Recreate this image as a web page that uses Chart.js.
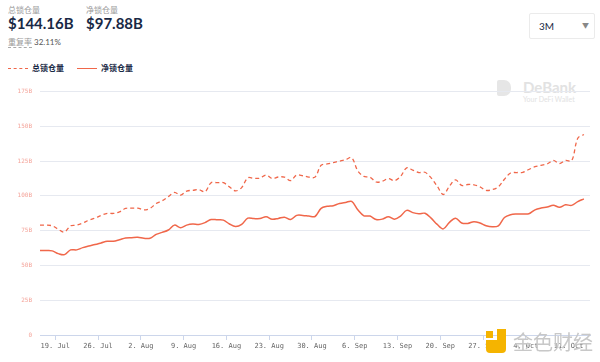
<!DOCTYPE html>
<html>
<head>
<meta charset="utf-8">
<script src="https://cdn.jsdelivr.net/npm/chart.js@4"></script>
<style>
  body { margin: 0; width: 600px; height: 362px; background: #fff; font-family: Lato, "Noto Sans CJK SC", sans-serif; position: relative; overflow: hidden; }
  .abs { position: absolute; }
  .cap { font-size: 8px; color: #9a9a9a; }
  .big { font-size: 15px; font-weight: bold; color: #192945; }
  .legend { top: 62px; font-size: 8px; font-weight: bold; color: #192945; }
  .leg-line { position: absolute; top: 6px; width: 20px; border-top: 1.5px solid #f0674a; }
  .select { left: 529px; top: 13px; width: 64px; height: 24px; border: 1px solid #ebebeb; border-radius: 2px; font-size: 10px; color: #192945; }
  #wrap { position: absolute; left: 0; top: 80px; width: 600px; height: 282px; }
</style>
</head>
<body>
<div class="abs cap" style="left:8px;top:4px;">总锁仓量</div>
<div class="abs big" style="left:8px;top:14px;">$144.16B</div>
<div class="abs cap" style="left:86px;top:4px;">净锁仓量</div>
<div class="abs big" style="left:86px;top:14px;">$97.88B</div>
<div class="abs cap" style="left:8px;top:36px;"><span style="border-bottom:1px dashed #aaa;">重复率</span> <span style="color:#555;">32.11%</span></div>

<div class="abs legend" style="left:8px;"><span class="leg-line" style="left:0;border-top-style:dashed;"></span><span style="margin-left:24px;">总锁仓量</span></div>
<div class="abs legend" style="left:77px;"><span class="leg-line" style="left:0;"></span><span style="margin-left:24px;">净锁仓量</span></div>

<div class="abs select"><span class="abs" style="left:9px;top:6px;">3M</span><span class="abs" style="left:52px;top:6px;font-size:7px;color:#888;">&#9660;</span></div>

<div class="abs" style="left:497px;top:78px;color:#e2e2e2;">
  <div class="abs" style="left:0;top:2px;width:14px;height:16px;background:#e6e6e6;border-radius:2px 7px 7px 2px;"></div>
  <div class="abs" style="left:26px;top:0;font-size:15px;font-weight:bold;">DeBank</div>
  <div class="abs" style="left:26px;top:17px;font-size:7px;white-space:nowrap;">Your DeFi Wallet</div>
</div>

<div id="wrap"><canvas id="chart"></canvas></div>

<div class="abs" style="left:486px;top:329px;">
  <div class="abs" style="left:0;top:2px;width:7px;height:7px;background:#f5b400;"></div>
  <div class="abs" style="left:0;top:11px;width:20px;height:13px;background:#f5b400;border-radius:0 0 4px 4px;"></div>
  <div class="abs" style="left:11px;top:0;width:9px;height:15px;background:#f5b400;"></div>
  <div class="abs" style="left:27px;top:0;font-size:20px;color:#c8c8c8;white-space:nowrap;font-family:'Noto Sans CJK SC';line-height:26px;">金色财经</div>
</div>

<script>
// Day offsets from 19 Jul (one point a day)
const days = [];
for (let i = 0; i < 90; i++) days.push(i - 2.5);

// 总锁仓量 (billions)
const totalTvl = [
  79, 79, 78.5, 76, 74, 78.5, 79, 80.5, 82.5, 84,
  86, 87.4, 87.4, 88.5, 91, 91.2, 91.2, 90, 91, 94.5,
  96.5, 99.5, 102.5, 100.5, 103.5, 104, 104.5, 103, 109.5, 109.5,
  109.5, 106.5, 103.6, 106, 113, 112.6, 112.8, 115, 112.5, 113.6,
  113.5, 111, 115, 114.5, 113.5, 113.5, 122, 123, 124, 125,
  126, 127.5, 118, 114, 113.5, 110, 110.5, 112.5, 111, 114,
  120.2, 118.5, 116.8, 117, 113, 107, 101, 107, 111.5, 107.5,
  108.2, 108, 106.5, 104, 104.5, 106.5, 112, 116.5, 116.8, 117,
  119, 121, 122, 123, 125.5, 123.2, 125.5, 125.3, 141.5, 144.2
];

// 净锁仓量 (billions)
const netTvl = [
  60.7, 60.7, 60.5, 58.5, 57.8, 61.2, 61.2, 62.8, 64, 65,
  66.2, 67.4, 67.4, 68.5, 69.8, 70, 70.2, 69.5, 69.5, 72.3,
  73.8, 75.5, 79, 77.2, 79, 79.8, 79.5, 80.8, 83, 82.8,
  82.6, 79.8, 78, 79.5, 84, 83.7, 83.7, 85, 83.2, 83.8,
  84.7, 83, 86, 86, 85.5, 85.2, 91, 92.5, 93, 94.5,
  95.3, 96, 90, 85.7, 85.5, 83, 83.3, 85, 83.3, 85.5,
  89.6, 88, 87.2, 87.5, 84, 79.5, 76.3, 81, 84, 80.5,
  80.2, 81.5, 80.5, 78.5, 77.8, 78.5, 84.5, 86.5, 87, 87,
  87.2, 90, 91.3, 92, 93.3, 91.8, 93.6, 93.2, 95.9, 97.9
];

// X axis ticks (weekly)
const tickDays = [0, 7, 14, 21, 28, 35, 42, 49, 56, 63, 70, 77, 84];
const tickLabels = ['19. Jul', '26. Jul', '2. Aug', '9. Aug', '16. Aug', '23. Aug', '30. Aug',
  '6. Sep', '13. Sep', '20. Sep', '27. Sep', '4. Oct', '11. Oct'];

// Y axis ticks
const yTicks = [0, 25, 50, 75, 100, 125, 150, 175];

const lineColor = '#f0674a';

function toPoints(values) {
  return values.map((v, i) => ({ x: days[i], y: v }));
}

new Chart(document.getElementById('chart'), {
  type: 'line',
  data: {
    datasets: [
      {
        label: '总锁仓量',
        data: toPoints(totalTvl),
        borderColor: lineColor,
        borderWidth: 1.3,
        borderDash: [4, 3],
        pointRadius: 0,
        tension: 0.35
      },
      {
        label: '净锁仓量',
        data: toPoints(netTvl),
        borderColor: lineColor,
        borderWidth: 1.5,
        pointRadius: 0,
        tension: 0.35
      }
    ]
  },
  options: {
    responsive: true,
    maintainAspectRatio: false,
    animation: false,
    layout: { padding: { top: 10, right: 10, left: 0, bottom: 0 } },
    plugins: { legend: { display: false }, tooltip: { enabled: false } },
    scales: {
      x: {
        type: 'linear',
        min: -2.5,
        max: 87.5,
        afterBuildTicks: (scale) => { scale.ticks = tickDays.map((v) => ({ value: v })); },
        afterFit: (scale) => { scale.height = 27; },
        border: { color: '#ccd6eb' },
        grid: { drawOnChartArea: false, drawTicks: true, tickLength: 5, color: '#ccd6eb' },
        ticks: {
          autoSkip: false,
          maxRotation: 0,
          padding: 2,
          color: '#666',
          font: { family: 'DejaVu Sans Mono', size: 7 },
          callback: (v) => tickLabels[tickDays.indexOf(v)]
        }
      },
      y: {
        min: 0,
        max: 175,
        afterBuildTicks: (scale) => { scale.ticks = yTicks.map((v) => ({ value: v })); },
        afterFit: (scale) => { scale.width = 40; },
        border: { display: false },
        grid: { color: '#e6e9f0', drawTicks: false },
        ticks: {
          padding: 8,
          color: '#f4a49a',
          font: { family: 'DejaVu Sans Mono', size: 6 },
          callback: (v) => (v === 0 ? '0' : v + 'B')
        }
      }
    }
  }
});
</script>
</body>
</html>
